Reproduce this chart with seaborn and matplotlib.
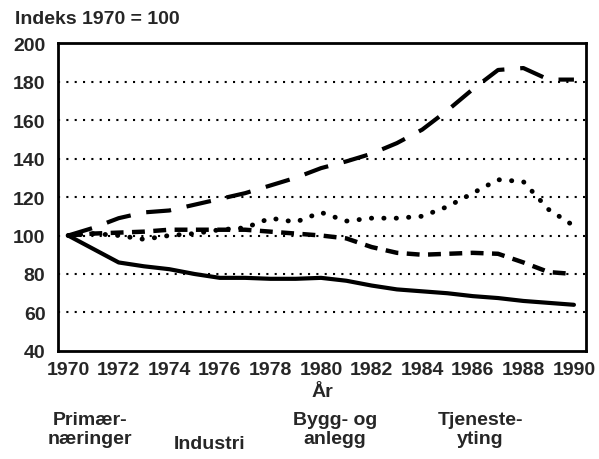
import matplotlib
matplotlib.use("Agg")
import matplotlib.pyplot as plt
import seaborn as sns
import numpy as np
from matplotlib.ticker import MultipleLocator

years = list(range(1970, 1991))
primaer = [100, 93, 86, 84, 82.5, 80, 78, 78, 77.5, 77.5, 78, 76.5, 74, 72, 71, 70, 68.5, 67.5, 66, 65, 64]
industri = [100, 101, 101.5, 102, 103, 103, 103, 103, 102, 101, 100, 98.5, 94, 91, 90, 90.5, 91, 90.5, 86, 81, 80]
bygg = [100, 101, 100, 98, 100, 101, 103, 104, 109, 107, 112, 107.5, 109, 109, 110, 115, 122, 129, 128, 113.5, 105]
tjeneste = [100, 104, 109, 112, 113, 116, 119, 122, 126, 130, 135, 138.5, 142.5, 148, 155, 165, 176, 186, 187, 181, 181]

legend_labels = ["Primær-\nnæringer", "Industri", "Bygg- og\nanlegg", "Tjeneste-\nyting"]

sns.set_style("white")
plt.rcParams.update({
    "font.family": ["Liberation Sans", "DejaVu Sans"],
    "font.weight": "bold",
    "font.size": 14,
})

fig = plt.figure(figsize=(5.99, 4.60), dpi=100)
ax = fig.add_axes([0.0968, 0.2348, 0.8812, 0.6695])

sns.lineplot(x=years, y=primaer, ax=ax, color="black", lw=3, linestyle="-")
sns.lineplot(x=years, y=industri, ax=ax, color="black", lw=3.2, linestyle=(0, (2.9, 1.9)))
sns.lineplot(x=years, y=bygg, ax=ax, color="black", lw=3.5, linestyle=(0, (0.05, 2.5)),
             dash_capstyle="round")
sns.lineplot(x=years, y=tjeneste, ax=ax, color="black", lw=3, linestyle=(0, (6, 3.8)))

# dotted reference lines
for v in range(60, 200, 20):
    ax.axhline(v, color="black", lw=1.5, linestyle=(0, (1, 3)), zorder=0)

ax.set_xlim(1969.6, 1990.47)
ax.set_ylim(40, 200)
ax.xaxis.set_major_locator(MultipleLocator(2))
ax.xaxis.set_minor_locator(MultipleLocator(1))
ax.yaxis.set_major_locator(MultipleLocator(20))
ax.yaxis.set_minor_locator(MultipleLocator(10))
ax.tick_params(axis="x", which="both", direction="in", length=7, width=1.5, pad=7,
               labelsize=14)
ax.tick_params(axis="y", which="major", length=0, pad=9, labelsize=14)
ax.tick_params(axis="y", which="minor", direction="in", length=6, width=1.5)
for lab in ax.get_xticklabels() + ax.get_yticklabels():
    lab.set_fontweight("bold")

for s in ax.spines.values():
    s.set_linewidth(2)
    s.set_color("black")

ax.set_xlabel("År", fontsize=14, fontweight="bold", labelpad=4)
ax.set_ylabel("")

fig.text(15 / 599, 1 - 20 / 460, "Indeks 1970 = 100", fontsize=14, fontweight="bold",
         ha="left", va="center")

label_x = [90, 210, 335, 480]
label_y = [430, 445, 430, 430]
for lx, ly, lab in zip(label_x, label_y, legend_labels):
    fig.text(lx / 599, 1 - ly / 460, lab, fontsize=14, fontweight="bold",
             ha="center", va="center", linespacing=1.1)

fig.savefig("out.png", dpi=100)
